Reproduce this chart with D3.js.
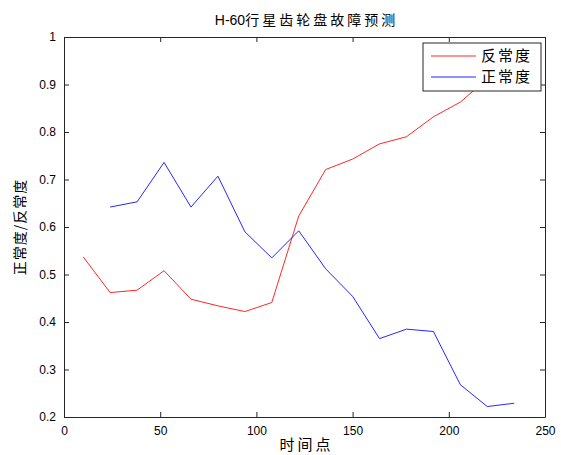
<!DOCTYPE html>
<html><head><meta charset="utf-8">
<script src="https://cdn.jsdelivr.net/npm/d3@7"></script>
<style>
body{margin:0;background:#fff;}
text{font-family:"Liberation Sans","DejaVu Sans","Noto Sans CJK SC",sans-serif;}
</style></head>
<body><svg id="c" width="561" height="455"></svg>
<script>
const titleLatin = "H-60";
const titleCjk = "行星齿轮盘故障预测";
const xLabel = "时间点";
const yLabel = "正常度/反常度";
const seriesNames = ["反常度", "正常度"];
const seriesColors = ["#ff0000", "#0000ff"];
const abnormalX = [10,24,38,52,66,80,94,108,122,136,150,164,178,192,206,220,234];
const abnormalY = [0.537,0.462,0.467,0.508,0.448,0.434,0.422,0.441,0.623,0.721,0.743,0.775,0.790,0.832,0.863,0.912,0.95];
const normalX = [24,38,52,66,80,94,108,122,136,150,164,178,192,206,220,234];
const normalY = [0.642,0.653,0.736,0.642,0.707,0.590,0.535,0.592,0.512,0.454,0.365,0.385,0.380,0.268,0.222,0.229];
const xTicks = [0,50,100,150,200,250];
const yTicks = [0.2,0.3,0.4,0.5,0.6,0.7,0.8,0.9,1];

const svg = d3.select("#c");
const L=64, R=545, T=37, B=417;
const x = d3.scaleLinear().domain([0,250]).range([L,R]);
const y = d3.scaleLinear().domain([0.2,1]).range([B,T]);
const cjk = '"Noto Sans CJK SC",sans-serif';
const axisCol = "#262626";

svg.append("rect").attr("x",L).attr("y",T).attr("width",R-L).attr("height",B-T).attr("fill","#fff");

const line = d3.line().x(d=>x(d[0])).y(d=>y(d[1]));
const series = [abnormalX.map((v,i)=>[v,abnormalY[i]]), normalX.map((v,i)=>[v,normalY[i]])];
series.forEach((s,i)=>{
  svg.append("path").datum(s).attr("d",line).attr("fill","none")
    .attr("stroke",seriesColors[i]).attr("stroke-width",1).attr("opacity",0.85);
});

const fmt = d=> d===1 ? "1" : d3.format(".1f")(d);
const gB = svg.append("g").attr("transform",`translate(0,${B})`)
  .call(d3.axisBottom(x).tickValues(xTicks).tickSizeInner(-5).tickSizeOuter(0).tickPadding(8));
const gT = svg.append("g").attr("transform",`translate(0,${T})`)
  .call(d3.axisTop(x).tickValues(xTicks).tickSizeInner(-5).tickSizeOuter(0).tickFormat(""));
const gL = svg.append("g").attr("transform",`translate(${L},0)`)
  .call(d3.axisLeft(y).tickValues(yTicks).tickSizeInner(-5).tickSizeOuter(0).tickPadding(8).tickFormat(fmt));
const gR = svg.append("g").attr("transform",`translate(${R},0)`)
  .call(d3.axisRight(y).tickValues(yTicks).tickSizeInner(-5).tickSizeOuter(0).tickFormat(""));
[gB,gT,gL,gR].forEach(g=>{
  g.selectAll("path").attr("stroke",axisCol);
  g.selectAll("line").attr("stroke",axisCol);
  g.selectAll("text").attr("fill","#000").style("font-size","12px")
   .style("font-family",'"Liberation Sans",sans-serif');
});
gB.selectAll("text").attr("dy","0.85em");

const tt = svg.append("text").attr("x",(L+R)/2+2).attr("y",25).attr("text-anchor","middle")
  .style("font-family",cjk).style("font-size","14px").attr("fill","#000");
tt.append("tspan").style("font-family",'"Liberation Sans",sans-serif').text(titleLatin);
tt.append("tspan").style("letter-spacing","3px").text(titleCjk);
svg.append("text").attr("x",(L+R)/2+2).attr("y",450).attr("text-anchor","middle")
  .style("font-family",cjk).style("font-size","15px").style("letter-spacing","3px")
  .attr("fill","#000").text(xLabel);
svg.append("text").attr("transform",`translate(25,${(T+B)/2}) rotate(-90)`).attr("text-anchor","middle")
  .style("font-family",cjk).style("font-size","14px").style("letter-spacing","1px")
  .attr("fill","#000").text(yLabel);

const lg = svg.append("g");
lg.append("rect").attr("x",423).attr("y",43).attr("width",118).attr("height",48)
  .attr("fill","#fff").attr("stroke",axisCol).attr("stroke-width",1);
seriesNames.forEach((n,i)=>{
  const yy = 56 + i*21;
  lg.append("line").attr("x1",431).attr("x2",476).attr("y1",yy).attr("y2",yy)
    .attr("stroke",seriesColors[i]).attr("stroke-width",1).attr("opacity",0.85);
  lg.append("text").attr("x",481).attr("y",yy).attr("dy","0.36em")
    .style("font-family",cjk).style("font-size","15px").style("letter-spacing","2px")
    .attr("fill","#000").text(n);
});
</script></body></html>
